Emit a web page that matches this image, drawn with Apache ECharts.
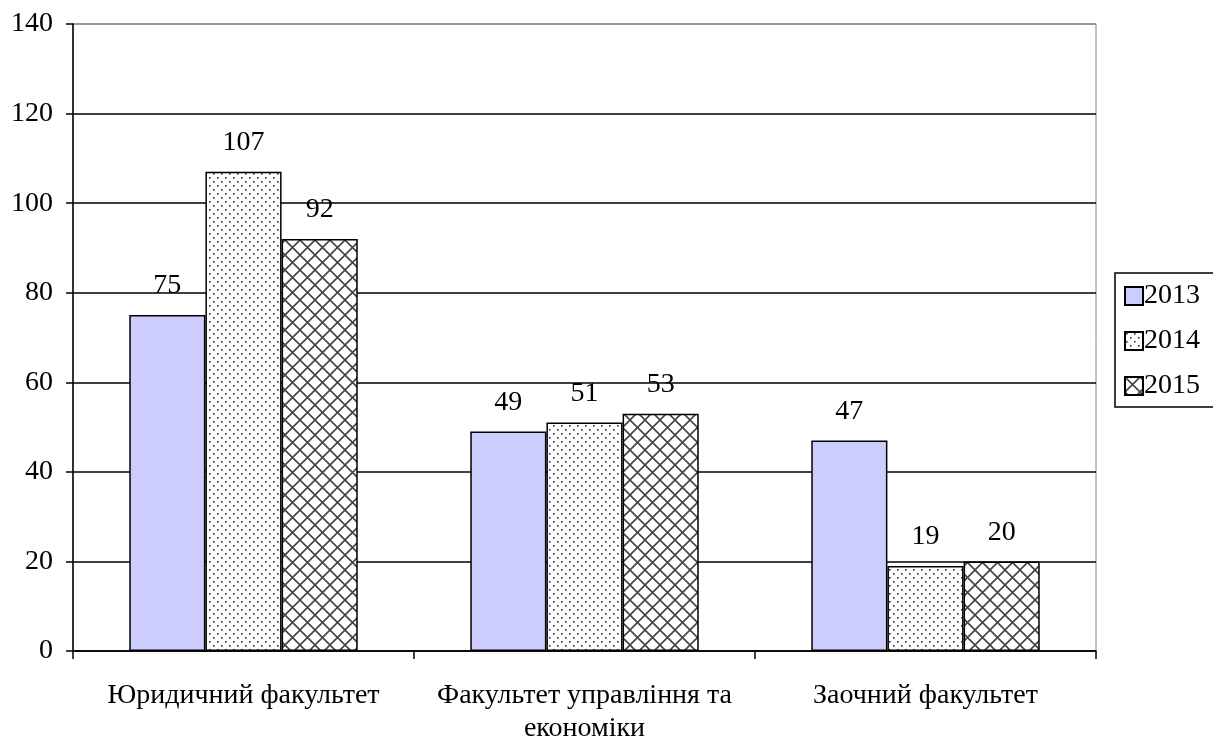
<!DOCTYPE html>
<html><head><meta charset="utf-8">
<script src="https://cdn.jsdelivr.net/npm/echarts@6/dist/echarts.min.js"></script>
<style>html,body{margin:0;padding:0;background:#fff}#c{width:1213px;height:741px}</style>
</head><body><div id="c"></div>
<script>
var categories = ['Юридичний факультет', 'Факультет управління та\nекономіки', 'Заочний факультет'];
var seriesNames = ['2013', '2014', '2015'];
var values2013 = [75, 49, 47];
var values2014 = [107, 51, 19];
var values2015 = [92, 53, 20];

function dotPattern() {
  var c = document.createElement('canvas'); c.width = 8; c.height = 8;
  var g = c.getContext('2d');
  g.fillStyle = '#fff'; g.fillRect(0, 0, 8, 8);
  g.fillStyle = '#333';
  g.fillRect(1, 1, 1.6, 1.6); g.fillRect(5, 5, 1.6, 1.6);
  return { image: c, repeat: 'repeat' };
}
function crossPattern() {
  var s = 15;
  var c = document.createElement('canvas'); c.width = s; c.height = s;
  var g = c.getContext('2d');
  g.fillStyle = '#fff'; g.fillRect(0, 0, s, s);
  g.strokeStyle = '#444'; g.lineWidth = 1.6;
  g.beginPath();
  g.moveTo(-1, -1); g.lineTo(s + 1, s + 1);
  g.moveTo(s + 1, -1); g.lineTo(-1, s + 1);
  g.stroke();
  return { image: c, repeat: 'repeat' };
}

var font = '"Liberation Serif", "Times New Roman", serif';
var fs = 28;
var fills = ['#CCCCFF', dotPattern(), crossPattern()];
var data = [values2013, values2014, values2015];

var chart = echarts.init(document.getElementById('c'));
chart.setOption({
  animation: false,
  backgroundColor: '#fff',
  grid: { left: 73, right: 117, top: 24, bottom: 90, show: true, borderColor: '#888', borderWidth: 1, containLabel: false, outerBoundsMode: 'none' },
  legend: {
    orient: 'vertical', left: 1115, top: 273,
    padding: [9, 40, 7, 9], itemGap: 17,
    borderColor: '#000', borderWidth: 1.5,
    itemWidth: 18, itemHeight: 18, icon: 'rect',
    textStyle: { fontFamily: font, fontSize: fs, color: '#000', padding: [0, 0, 0, -4] },
    data: seriesNames
  },
  xAxis: {
    type: 'category', data: categories,
    axisLine: { lineStyle: { color: '#000', width: 1.5 } },
    axisTick: { show: true, interval: 0, length: 8, lineStyle: { color: '#000', width: 1.5 } },
    axisLabel: { interval: 0, fontFamily: font, fontSize: fs, color: '#000', margin: 28, lineHeight: 33 }
  },
  yAxis: {
    type: 'value', min: 0, max: 140, interval: 20,
    axisLine: { show: true, lineStyle: { color: '#000', width: 1.5 } },
    axisTick: { show: true, length: 7, lineStyle: { color: '#000', width: 1.5 } },
    axisLabel: { fontFamily: font, fontSize: fs, color: '#000', margin: 20 },
    splitLine: { lineStyle: { color: ['#000', '#000', '#000', '#000', '#000', '#000', '#000', '#888'], width: 1.5 } }
  },
  series: seriesNames.map(function (n, i) {
    return {
      name: n, type: 'bar', data: data[i],
      barGap: '0%', barCategoryGap: '33%',
      itemStyle: { color: fills[i], borderColor: '#000', borderWidth: 1.5 },
      label: { show: true, position: 'top', distance: 15, fontFamily: font, fontSize: fs, color: '#000' }
    };
  })
});
</script></body></html>
